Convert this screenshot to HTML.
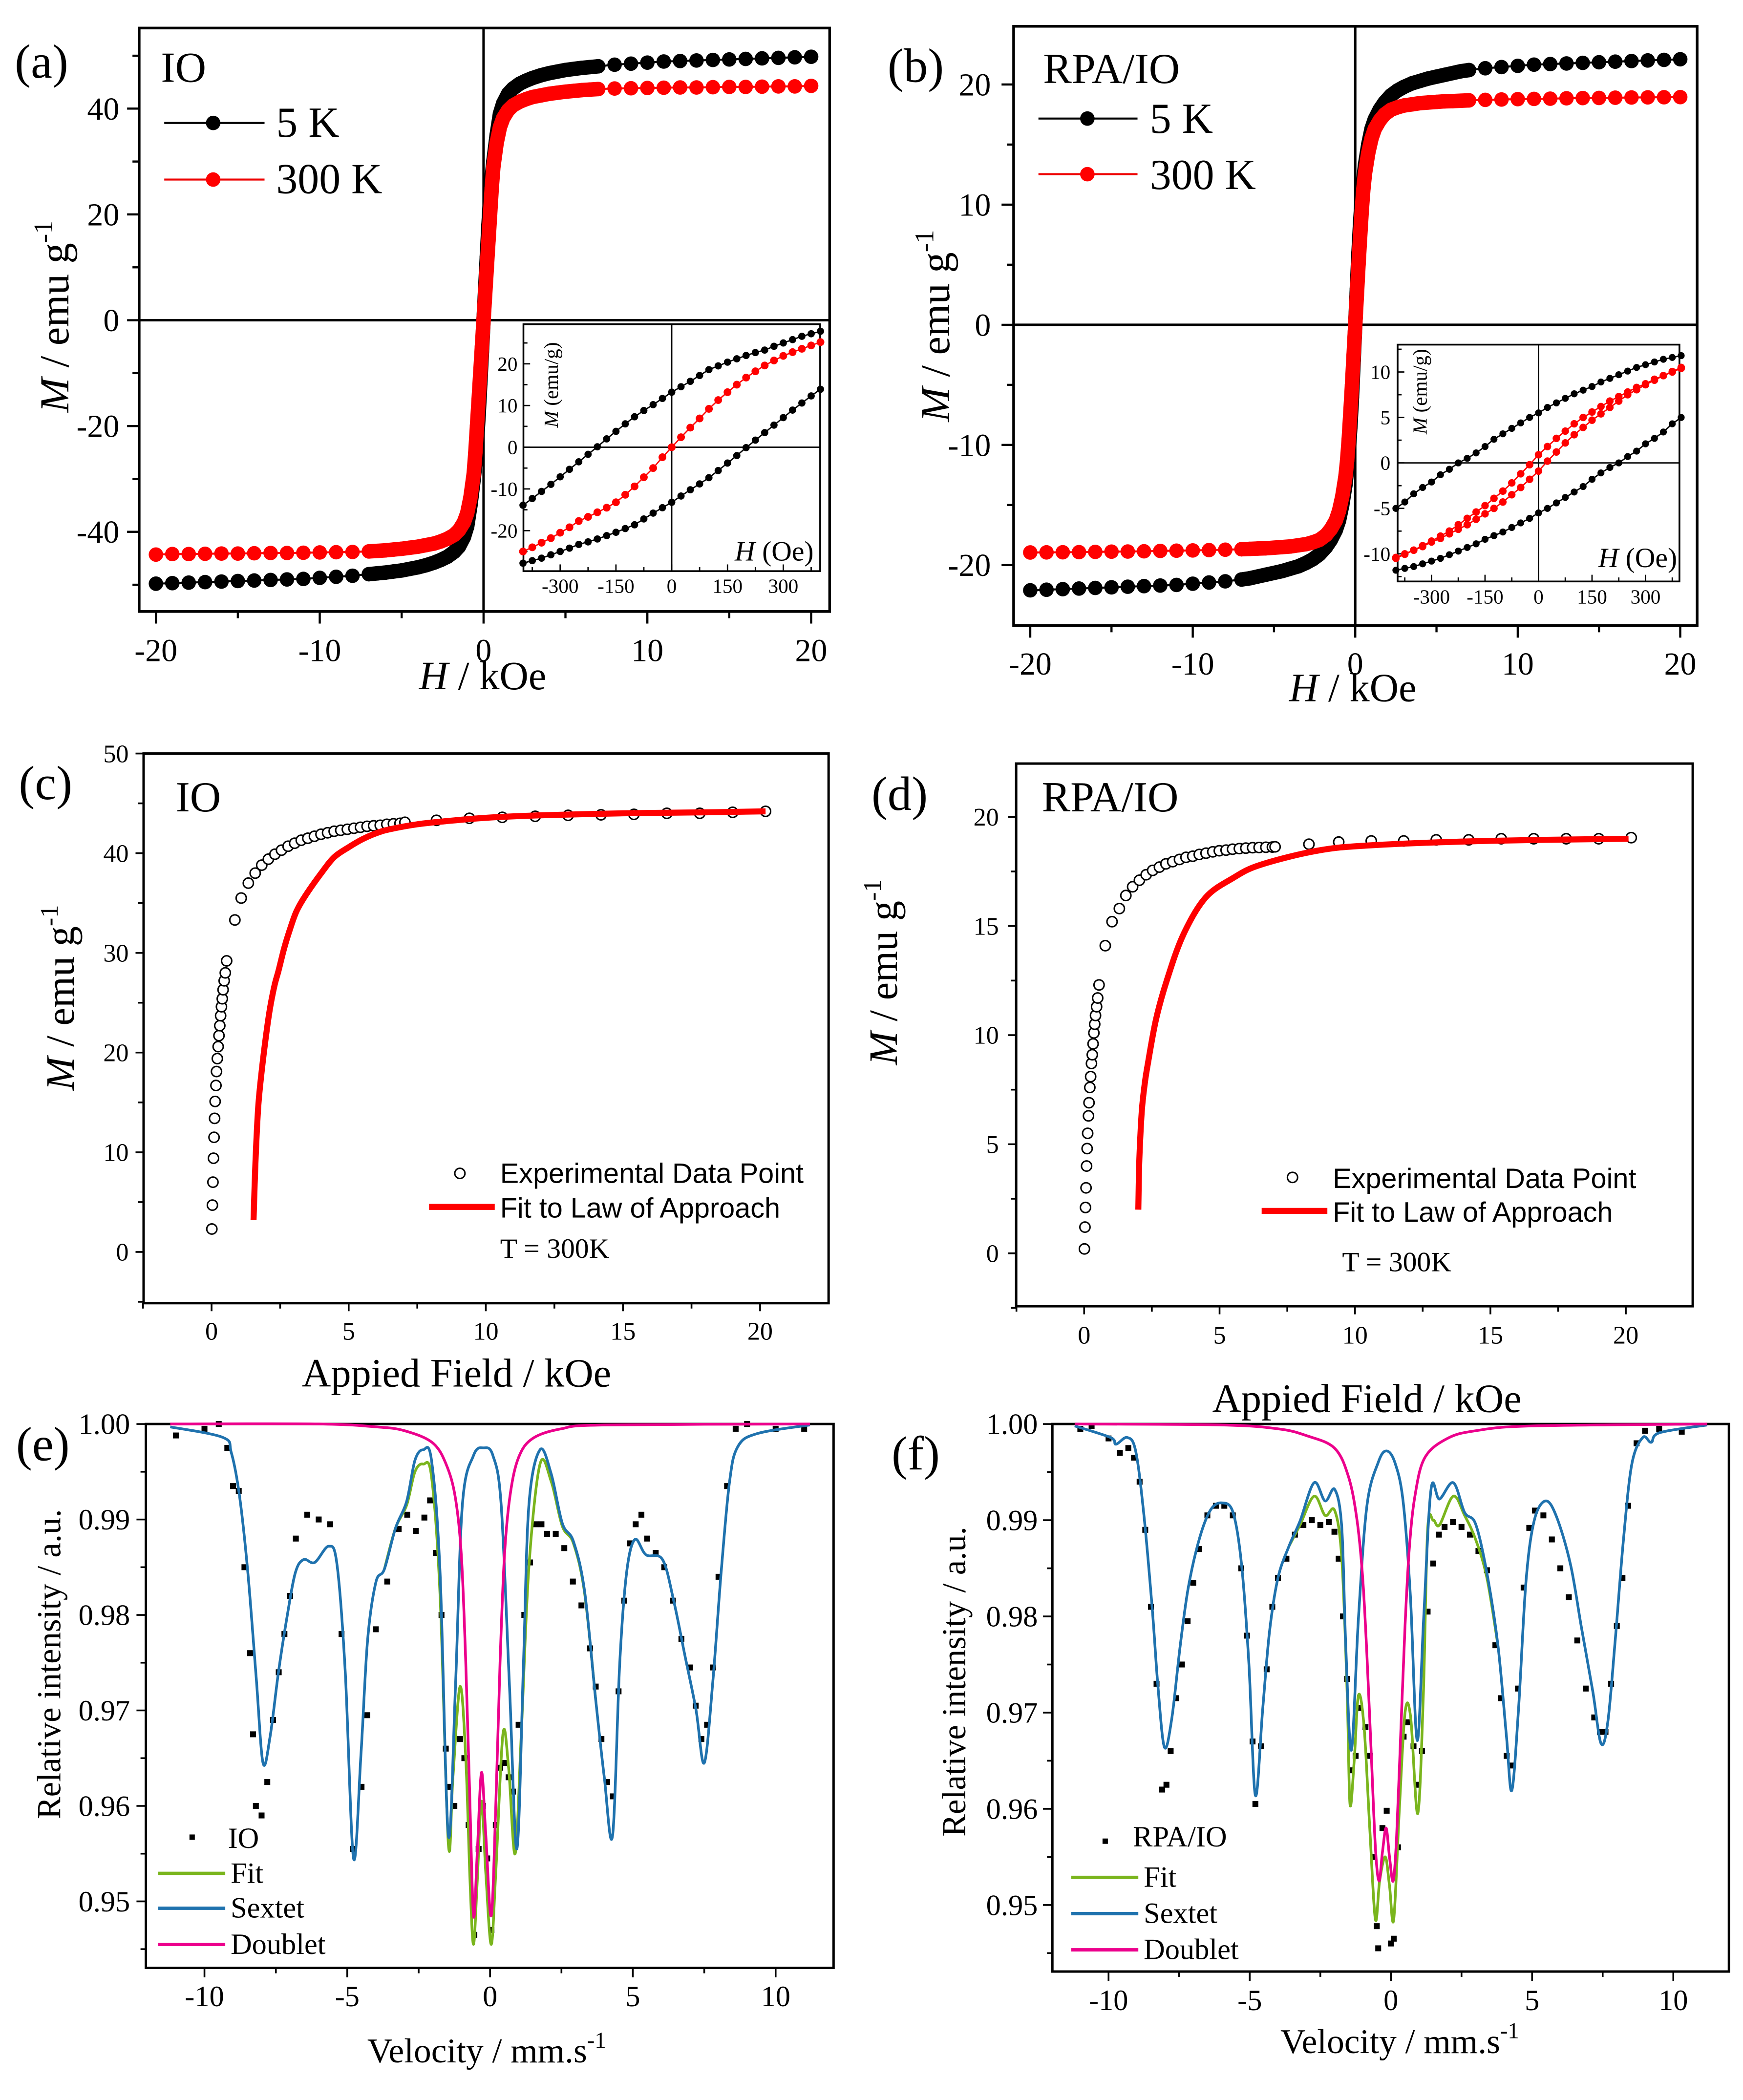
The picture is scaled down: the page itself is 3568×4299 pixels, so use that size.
<!DOCTYPE html>
<html><head><meta charset="utf-8">
<style>
html,body{margin:0;padding:0;background:#fff}
svg{display:block;font-family:"Liberation Serif",serif}
text{font-family:"Liberation Serif",serif;fill:#000}
text.sans{font-family:"Liberation Sans",sans-serif}
</style></head>
<body>
<svg id="fig" xmlns="http://www.w3.org/2000/svg" width="3568" height="4299" viewBox="0 0 1300 1566" preserveAspectRatio="none" font-family="Liberation Serif, serif">
<rect x="0" y="0" width="1300" height="1566" fill="#fff"/>

<!-- Panel a -->
<g id="pa">
  <text x="11" y="58" font-size="36">(a)</text>
</g>
<g id="pa-top">
  <text x="120" y="61" font-size="32">IO</text>
  <line x1="122.5" y1="91.7" x2="197.3" y2="91.7" stroke="#000" stroke-width="1.5"/>
  <circle cx="159" cy="91.7" r="5.4" fill="#000"/>
  <text x="206" y="102" font-size="32">5 K</text>
  <line x1="122.5" y1="133.9" x2="197.3" y2="133.9" stroke="#e00" stroke-width="1.5"/>
  <circle cx="159" cy="133.9" r="5.4" fill="#f00"/>
  <text x="206" y="144" font-size="32">300 K</text>
  <text x="360" y="514" font-size="30" text-anchor="middle"><tspan font-style="italic">H</tspan> / kOe</text>
  <text transform="translate(51,236) rotate(-90)" font-size="31" text-anchor="middle"><tspan font-style="italic">M</tspan> / emu g<tspan dy="-12" font-size="20">-1</tspan></text>
</g>
<g id="pai"></g>
<g id="pai-top">
  <text x="548" y="418" font-size="21"><tspan font-style="italic">H</tspan> (Oe)</text>
  <text transform="translate(416,287) rotate(-90)" font-size="15" text-anchor="middle"><tspan font-style="italic">M</tspan> (emu/g)</text>
</g>

<!-- Panel b -->
<g id="pb">
  <text x="662" y="61" font-size="36">(b)</text>
</g>
<g id="pb-top">
  <text x="778" y="62" font-size="32">RPA/IO</text>
  <line x1="774.5" y1="88.4" x2="848.4" y2="88.4" stroke="#000" stroke-width="1.5"/>
  <circle cx="811" cy="88.4" r="5.4" fill="#000"/>
  <text x="857.6" y="99" font-size="32">5 K</text>
  <line x1="774.5" y1="129.9" x2="848.4" y2="129.9" stroke="#e00" stroke-width="1.5"/>
  <circle cx="811" cy="129.9" r="5.4" fill="#f00"/>
  <text x="857.6" y="141" font-size="32">300 K</text>
  <text x="1009" y="523" font-size="30" text-anchor="middle"><tspan font-style="italic">H</tspan> / kOe</text>
  <text transform="translate(708,243) rotate(-90)" font-size="31" text-anchor="middle"><tspan font-style="italic">M</tspan> / emu g<tspan dy="-12" font-size="20">-1</tspan></text>
</g>
<g id="pbi"></g>
<g id="pbi-top">
  <text x="1192" y="423" font-size="21"><tspan font-style="italic">H</tspan> (Oe)</text>
  <text transform="translate(1064,292) rotate(-90)" font-size="15" text-anchor="middle"><tspan font-style="italic">M</tspan> (emu/g)</text>
</g>

<!-- Panel c -->
<g id="pc">
  <text x="14" y="596" font-size="36">(c)</text>
  <text x="131" y="605" font-size="32">IO</text>
  <circle cx="343" cy="875" r="3.8" fill="#fff" stroke="#000" stroke-width="1.1"/>
  <text x="373" y="882" font-size="21" class="sans" font-family="Liberation Sans, sans-serif">Experimental Data Point</text>
  <line x1="320" y1="900" x2="369" y2="900" stroke="#f00" stroke-width="4.5"/>
  <text x="373" y="908" font-size="21" class="sans" font-family="Liberation Sans, sans-serif">Fit to Law of Approach</text>
  <text x="373" y="938" font-size="21">T = 300K</text>
  <text x="340.5" y="1034" font-size="30" text-anchor="middle">Appied Field / kOe</text>
  <text transform="translate(55,744) rotate(-90)" font-size="30" text-anchor="middle"><tspan font-style="italic">M</tspan> / emu g<tspan dy="-12" font-size="19">-1</tspan></text>
</g>

<!-- Panel d -->
<g id="pd">
  <text x="650" y="604" font-size="36">(d)</text>
  <text x="777" y="605" font-size="32">RPA/IO</text>
  <circle cx="964" cy="878" r="3.8" fill="#fff" stroke="#000" stroke-width="1.1"/>
  <text x="994" y="886" font-size="21" class="sans" font-family="Liberation Sans, sans-serif">Experimental Data Point</text>
  <line x1="941" y1="903" x2="990" y2="903" stroke="#f00" stroke-width="4.5"/>
  <text x="994" y="911" font-size="21" class="sans" font-family="Liberation Sans, sans-serif">Fit to Law of Approach</text>
  <text x="1001" y="948" font-size="21">T = 300K</text>
  <text x="1019.5" y="1053" font-size="30" text-anchor="middle">Appied Field / kOe</text>
  <text transform="translate(669,725) rotate(-90)" font-size="30" text-anchor="middle"><tspan font-style="italic">M</tspan> / emu g<tspan dy="-12" font-size="19">-1</tspan></text>
</g>

<!-- Panel e -->
<g id="pe">
  <text x="12" y="1089" font-size="36">(e)</text>
</g>
<g id="pe-top">
  <rect x="141.3" y="1368" width="4" height="4" fill="#000"/>
  <text x="170" y="1378" font-size="22">IO</text>
  <line x1="118" y1="1397" x2="168" y2="1397" stroke="#7AB51D" stroke-width="2.5"/>
  <text x="172" y="1404" font-size="22">Fit</text>
  <line x1="118" y1="1423" x2="168" y2="1423" stroke="#1F72AE" stroke-width="2.5"/>
  <text x="172" y="1430" font-size="22">Sextet</text>
  <line x1="118" y1="1450" x2="168" y2="1450" stroke="#EC008C" stroke-width="2.5"/>
  <text x="172" y="1457" font-size="22">Doublet</text>
  <text x="363" y="1538" font-size="26" text-anchor="middle">Velocity / mm.s<tspan dy="-11" font-size="17">-1</tspan></text>
  <text transform="translate(45,1241) rotate(-90)" font-size="25" text-anchor="middle">Relative intensity / a.u.</text>
</g>

<!-- Panel f -->
<g id="pf">
  <text x="665" y="1096" font-size="36">(f)</text>
</g>
<g id="pf-top">
  <rect x="822.3" y="1371" width="4" height="4" fill="#000"/>
  <text x="845" y="1377" font-size="22">RPA/IO</text>
  <line x1="799" y1="1400" x2="849" y2="1400" stroke="#7AB51D" stroke-width="2.5"/>
  <text x="853" y="1407" font-size="22">Fit</text>
  <line x1="799" y1="1427" x2="849" y2="1427" stroke="#1F72AE" stroke-width="2.5"/>
  <text x="853" y="1434" font-size="22">Sextet</text>
  <line x1="799" y1="1454" x2="849" y2="1454" stroke="#EC008C" stroke-width="2.5"/>
  <text x="853" y="1461" font-size="22">Doublet</text>
  <text x="1044" y="1531" font-size="26" text-anchor="middle">Velocity / mm.s<tspan dy="-11" font-size="17">-1</tspan></text>
  <text transform="translate(720,1254) rotate(-90)" font-size="25" text-anchor="middle">Relative intensity / a.u.</text>
</g>
</svg>

<script>
// ---------------- DATA ----------------
const aH = [0,0.1,0.2,0.3,0.4,0.5,0.6,0.8,1,1.2,1.5,1.8,2.2,2.6,3,3.5,4,4.5,5,5.5,6,6.5,7,8,9,10,11,12,13,14,15,16,17,18,19,20];
const a5K = [0,6,12,18,23,27,30,35,39,41,42.8,43.8,44.7,45.3,45.8,46.3,46.7,47,47.3,47.5,47.7,47.85,48,48.3,48.5,48.7,48.9,49,49.1,49.2,49.3,49.4,49.5,49.6,49.7,49.8];
const a300K = [0,5,10,15,20,25,29,33.5,36.5,38.2,39.7,40.6,41.3,41.8,42.2,42.5,42.8,43,43.2,43.35,43.5,43.6,43.7,43.8,43.85,43.9,43.95,44,44,44.05,44.1,44.1,44.15,44.2,44.2,44.3];
const bH = [0,0.1,0.2,0.3,0.4,0.5,0.6,0.8,1,1.2,1.5,1.8,2.2,2.6,3,3.5,4,4.5,5,5.5,6,6.5,7,8,9,10,11,12,13,14,15,16,17,18,19,20];
const b5K = [0,3,6,8.5,10.5,12,13.3,15,16.3,17.1,17.9,18.5,19.1,19.5,19.8,20.1,20.3,20.5,20.65,20.8,20.95,21.1,21.2,21.35,21.45,21.55,21.65,21.7,21.75,21.8,21.85,21.9,21.95,22,22.05,22.1];
const b300K = [0,2.5,5,7.3,9.5,11.3,12.6,14.3,15.5,16.3,17,17.5,17.9,18.1,18.25,18.35,18.45,18.5,18.55,18.6,18.62,18.65,18.68,18.72,18.75,18.78,18.8,18.82,18.85,18.87,18.88,18.9,18.92,18.93,18.94,18.95];
const insetH = [-400,-375,-350,-325,-300,-275,-250,-225,-200,-175,-150,-125,-100,-75,-50,-25,0,25,50,75,100,125,150,175,200,225,250,275,300,325,350,375,400];
const ia5Up = [-13.9,-12.3,-10.6,-8.9,-7.1,-5.3,-3.5,-1.7,0.1,2,3.8,5.6,7.3,8.8,10.2,11.7,13.2,14.5,15.8,17.2,18.6,19.5,20.4,21.2,22,22.7,23.3,24.2,25,25.8,26.6,27.2,27.8];
const ia5Down = [-27.8,-27.2,-26.6,-25.8,-25,-24.2,-23.3,-22.7,-22,-21.2,-20.4,-19.5,-18.6,-17.2,-15.8,-14.5,-13.2,-11.7,-10.2,-8.8,-7.3,-5.6,-3.8,-2,-0.1,1.7,3.5,5.3,7.1,8.9,10.6,12.3,13.9];
const ia300 = [-25,-24,-22.9,-21.8,-20.5,-19.2,-17.7,-16.7,-15.6,-14.5,-13.2,-11.4,-9.4,-7.2,-5,-2.4,0,2.4,4.7,6.9,9.2,11.3,13.2,15,16.7,18.2,19.6,20.8,21.9,22.8,23.6,24.4,25.2];
const ib5Up = [-5,-4.3,-3.4,-2.7,-2.1,-1.3,-0.7,0,0.5,1.1,1.8,2.6,3.2,3.8,4.4,5,5.5,6.1,6.6,7.1,7.6,8,8.4,8.9,9.3,9.7,10.1,10.5,10.8,11.1,11.4,11.6,11.8];
const ib5Down = [-11.8,-11.6,-11.4,-11.1,-10.8,-10.5,-10.1,-9.7,-9.3,-8.9,-8.4,-8,-7.6,-7.1,-6.6,-6.1,-5.5,-5,-4.4,-3.8,-3.2,-2.6,-1.8,-1.1,-0.5,0,0.7,1.3,2.1,2.7,3.4,4.3,5];
const ib300Up = [-10.5,-10.05,-9.6,-9.1,-8.6,-8.05,-7.5,-6.8,-6.1,-5.4,-4.7,-3.9,-3.1,-2.2,-1.2,-0.2,0.9,1.8,2.7,3.5,4.3,5,5.6,6.2,6.8,7.3,7.8,8.3,8.7,9.2,9.6,10,10.4];
const ib300Down = [-10.4,-10,-9.6,-9.2,-8.7,-8.3,-7.8,-7.3,-6.8,-6.2,-5.6,-5,-4.3,-3.5,-2.7,-1.8,-0.9,0.2,1.2,2.2,3.1,3.9,4.7,5.4,6.1,6.8,7.5,8.05,8.6,9.1,9.6,10.05,10.5];
const cExpH = [0.01,0.03,0.05,0.07,0.09,0.11,0.13,0.16,0.18,0.21,0.24,0.27,0.3,0.33,0.36,0.39,0.42,0.46,0.5,0.55,0.85,1.08,1.34,1.59,1.83,2.07,2.31,2.55,2.79,3.03,3.27,3.51,3.75,3.99,4.23,4.47,4.71,4.95,5.19,5.43,5.67,5.91,6.15,6.39,6.63,6.87,7.05,8.2,9.4,10.6,11.8,13,14.2,15.4,16.6,17.8,19,20.2];
const cExpM = [2.3,4.7,7,9.4,11.5,13.4,15.1,16.7,18.1,19.4,20.6,21.7,22.7,23.7,24.6,25.4,26.3,27.2,28,29.2,33.3,35.5,37,38,38.8,39.4,39.9,40.3,40.7,41,41.3,41.5,41.7,41.9,42.05,42.2,42.3,42.4,42.5,42.6,42.7,42.75,42.8,42.9,42.95,43,43.1,43.3,43.5,43.6,43.7,43.8,43.85,43.9,44,44,44.1,44.2];
const cFitH = [1.53,1.6,1.7,1.83,2,2.14,2.3,2.44,2.65,2.85,3.1,3.46,4,4.47,5,5.5,6,6.5,7.5,8.5,10,12,15,18,20.2];
const cFitM = [3.2,9,14.5,18.2,22,24.6,26.8,28.2,30.5,32.3,34.2,35.9,38,39.6,40.6,41.4,42,42.4,42.9,43.2,43.55,43.8,44,44.1,44.2];
const dExpH = [0.01,0.03,0.05,0.07,0.09,0.11,0.13,0.16,0.18,0.21,0.24,0.27,0.3,0.33,0.36,0.39,0.42,0.46,0.5,0.55,0.78,1.03,1.3,1.54,1.79,2.04,2.29,2.53,2.78,3.02,3.27,3.52,3.76,4.01,4.25,4.5,4.75,4.99,5.24,5.48,5.73,5.97,6.22,6.46,6.71,6.95,7.05,8.3,9.4,10.6,11.8,13,14.2,15.4,16.6,17.8,19,20.2];
const dExpM = [0.2,1.2,2.1,3,4,4.8,5.5,6.3,6.9,7.6,8.1,8.7,9.1,9.6,10.1,10.5,10.9,11.3,11.7,12.3,14.1,15.2,15.8,16.4,16.8,17.1,17.35,17.55,17.7,17.85,17.95,18.05,18.15,18.2,18.28,18.34,18.4,18.45,18.48,18.52,18.55,18.57,18.59,18.6,18.61,18.62,18.63,18.75,18.85,18.9,18.9,18.95,18.95,19,19,19,19,19.05];
const dFitH = [2,2.03,2.08,2.14,2.24,2.34,2.65,3.05,3.66,4.48,5.5,6.5,8.6,10.6,14.8,20.1];
const dFitM = [2,4,5.5,6.7,7.8,8.6,10.7,12.5,14.6,16.3,17.2,17.8,18.45,18.7,18.9,19.0];
const eSexV = [-11.2,-9.36,-9.06,-8.77,-8.48,-8.19,-7.95,-7.7,-7.41,-7.12,-6.82,-6.53,-6.14,-5.65,-5.36,-5.07,-4.78,-4.52,-4.29,-4.0,-3.7,-3.31,-2.92,-2.63,-2.34,-2.05,-1.75,-1.46,-1.21,-0.97,-0.58,-0.23,0.1,0.39,0.68,0.94,1.17,1.36,1.75,2.14,2.53,2.92,3.31,3.7,4.0,4.29,4.54,4.78,5.07,5.46,6.04,6.43,6.82,7.21,7.5,7.8,8.09,8.38,8.67,9.36,11.2];
const eSexI = [0.9997,0.9986,0.997,0.9924,0.9844,0.9735,0.9645,0.9673,0.974,0.9796,0.9844,0.9858,0.9855,0.9872,0.9853,0.974,0.9545,0.9654,0.9773,0.9834,0.9848,0.9891,0.9919,0.9962,0.9973,0.9962,0.9844,0.9569,0.9726,0.9915,0.9967,0.9975,0.9967,0.9915,0.9726,0.9555,0.9749,0.9915,0.9973,0.9948,0.9896,0.9877,0.9825,0.9711,0.963,0.9569,0.9749,0.9844,0.9879,0.9863,0.9858,0.9815,0.9758,0.9701,0.9645,0.9730,0.9844,0.9938,0.9976,0.999,0.9999];
const eFitV = [-3.7,-3.31,-2.92,-2.63,-2.34,-2.05,-1.75,-1.46,-1.3,-1.05,-0.85,-0.7,-0.58,-0.45,-0.3,-0.15,0.04,0.2,0.45,0.65,0.88,1.1,1.36,1.75,2.14,2.53,2.92,3.31,3.7];
const eFitI = [0.9848,0.9891,0.9915,0.995,0.9958,0.9945,0.982,0.956,0.963,0.9725,0.965,0.952,0.9455,0.952,0.9605,0.953,0.9455,0.953,0.9675,0.964,0.955,0.968,0.985,0.9958,0.994,0.9893,0.9875,0.9823,0.9711];
const eDblV = [-11.2,-6,-4,-3,-2,-1.5,-1.2,-1,-0.85,-0.72,-0.58,-0.45,-0.3,-0.15,0.04,0.2,0.35,0.5,0.7,1,1.5,2.5,4,11.2];
const eDblI = [1,1,0.9997,0.9993,0.998,0.9955,0.992,0.986,0.975,0.962,0.9485,0.955,0.9635,0.957,0.9485,0.96,0.975,0.986,0.9925,0.9965,0.9985,0.9995,0.9999,1];
const eDatV = [-11,-10,-9.5,-9.2,-9,-8.8,-8.6,-8.4,-8.3,-8.2,-8.0,-7.8,-7.6,-7.4,-7.2,-7,-6.8,-6.4,-6,-5.6,-5.2,-4.8,-4.5,-4.3,-4,-3.6,-3.2,-2.9,-2.6,-2.3,-2.1,-1.9,-1.7,-1.55,-1.4,-1.25,-1.05,-0.9,-0.75,-0.55,-0.4,-0.25,-0.1,0.05,0.2,0.35,0.5,0.65,0.8,1.0,1.2,1.4,1.6,1.8,2.0,2.3,2.6,2.9,3.2,3.5,3.7,3.9,4.1,4.3,4.5,4.7,4.9,5.1,5.3,5.5,5.8,6.1,6.4,6.7,7.0,7.2,7.4,7.6,7.8,8.0,8.3,8.6,9,10,11];
const eDatI = [0.9988,0.9995,1.0,0.9975,0.9935,0.993,0.985,0.976,0.9675,0.96,0.959,0.9625,0.969,0.974,0.978,0.982,0.988,0.9905,0.990,0.9895,0.978,0.9555,0.962,0.9695,0.9785,0.9835,0.989,0.9905,0.9888,0.9902,0.992,0.9865,0.98,0.966,0.962,0.96,0.967,0.965,0.958,0.9465,0.9555,0.96,0.9545,0.947,0.958,0.964,0.9645,0.963,0.9615,0.9685,0.98,0.9855,0.9895,0.9895,0.9885,0.9885,0.987,0.9835,0.981,0.9765,0.9725,0.967,0.9625,0.961,0.972,0.9815,0.9875,0.9895,0.9905,0.988,0.9865,0.985,0.9815,0.9775,0.9745,0.9705,0.967,0.9685,0.9745,0.984,0.9935,0.9995,1.0,0.9995,0.9995];
const fSexV = [-11.2,-9.93,-9.74,-9.34,-9.04,-8.75,-8.45,-8.25,-8.02,-7.76,-7.46,-7.17,-6.77,-6.38,-5.98,-5.59,-5.29,-5.03,-4.8,-4.54,-4.3,-4.0,-3.61,-3.22,-2.72,-2.33,-1.99,-1.74,-1.6,-1.4,-1.15,-0.85,-0.45,-0.16,0.14,0.43,0.69,0.93,1.16,1.42,1.72,2.21,2.61,3.0,3.4,3.79,4.09,4.28,4.52,4.78,5.07,5.47,5.86,6.36,6.75,7.15,7.44,7.68,7.94,8.23,8.53,8.92,9.22,9.52,11.2];
const fSexI = [0.9998,0.9986,0.9979,0.9986,0.9972,0.9906,0.9807,0.9727,0.9664,0.9694,0.977,0.9831,0.9882,0.9911,0.9918,0.9908,0.9854,0.9751,0.9614,0.9704,0.9784,0.984,0.9873,0.9899,0.9939,0.992,0.9932,0.9892,0.977,0.9661,0.9798,0.9915,0.996,0.9972,0.996,0.992,0.9821,0.9671,0.9798,0.9932,0.9922,0.9939,0.9908,0.9896,0.9845,0.977,0.9676,0.9619,0.9704,0.9835,0.9899,0.992,0.9904,0.9854,0.9788,0.9722,0.9668,0.969,0.9774,0.9878,0.9958,0.9986,0.9981,0.9991,0.9999];
const fFitV = [-3.61,-3.22,-2.72,-2.33,-1.99,-1.74,-1.55,-1.45,-1.3,-1.15,-0.95,-0.75,-0.55,-0.4,-0.2,-0.05,0.1,0.3,0.5,0.7,0.95,1.15,1.3,1.5,1.72,2.21,2.61,3.0,3.4,3.79];
const fFitI = [0.9873,0.9895,0.9925,0.9905,0.991,0.986,0.972,0.9605,0.965,0.9718,0.9685,0.958,0.9485,0.9525,0.955,0.952,0.9485,0.96,0.970,0.9695,0.9595,0.972,0.989,0.990,0.9895,0.9925,0.9905,0.988,0.9840,0.977];
const fDblV = [-11.2,-6,-4,-3,-2,-1.5,-1.2,-1,-0.85,-0.7,-0.55,-0.42,-0.3,-0.17,-0.05,0.08,0.2,0.35,0.5,0.65,0.85,1.2,2,3,5,11.2];
const fDblI = [1,0.9999,0.9995,0.9988,0.9975,0.9945,0.990,0.984,0.976,0.966,0.956,0.9525,0.9555,0.958,0.955,0.9525,0.957,0.968,0.979,0.987,0.9925,0.9965,0.9985,0.9993,0.9998,1];
const fDatV = [-11,-10.6,-10,-9.6,-9.3,-9.1,-8.9,-8.7,-8.5,-8.3,-8.1,-7.95,-7.8,-7.6,-7.4,-7.2,-7.0,-6.8,-6.5,-6.2,-5.9,-5.6,-5.3,-5.1,-4.9,-4.8,-4.6,-4.4,-4.2,-4.0,-3.7,-3.4,-3.1,-2.8,-2.5,-2.2,-2.0,-1.85,-1.7,-1.55,-1.4,-1.25,-1.1,-0.9,-0.75,-0.6,-0.5,-0.45,-0.3,-0.15,0.0,0.1,0.25,0.45,0.6,0.8,0.95,1.1,1.3,1.5,1.7,1.9,2.2,2.5,2.8,3.1,3.4,3.7,3.9,4.1,4.3,4.5,4.7,4.9,5.1,5.4,5.7,6.0,6.3,6.6,6.9,7.2,7.4,7.6,7.8,8.0,8.2,8.4,8.7,9.0,9.5,10.3];
const fDatI = [0.9995,0.9998,0.9985,0.997,0.9975,0.9965,0.994,0.989,0.981,0.973,0.962,0.9625,0.966,0.9715,0.975,0.9795,0.9835,0.987,0.9905,0.9915,0.9915,0.9905,0.985,0.978,0.967,0.9605,0.9665,0.9745,0.981,0.984,0.986,0.9885,0.9895,0.990,0.9895,0.9898,0.9888,0.986,0.98,0.9735,0.964,0.9655,0.9705,0.9685,0.9655,0.955,0.9478,0.9455,0.958,0.9598,0.946,0.9465,0.956,0.9675,0.969,0.9665,0.9625,0.966,0.9805,0.9855,0.9885,0.9893,0.9898,0.9893,0.9885,0.9868,0.9848,0.977,0.9715,0.9655,0.9645,0.9725,0.983,0.9892,0.991,0.9905,0.988,0.985,0.982,0.9775,0.9725,0.9695,0.968,0.968,0.973,0.979,0.984,0.9915,0.998,0.9993,0.9995,0.9992];
const hxTicks = [-20,-10,0,10,20];
const hxLabels = ['-20','-10','0','10','20'];
const aYTicks = [-40,-20,0,20,40];
const aYLabels = ['-40','-20','0','20','40'];
const bYTicks = [-20,-10,0,10,20];
const bYLabels = ['-20','-10','0','10','20'];
const inXTicks = [-300,-150,0,150,300];
const inXLabels = ['-300','-150','0','150','300'];
const iaYTicks = [-20,-10,0,10,20];
const iaYLabels = ['-20','-10','0','10','20'];
const ibYTicks = [-10,-5,0,5,10];
const ibYLabels = ['-10','-5','0','5','10'];
const cdXTicks = [0,5,10,15,20];
const cdXLabels = ['0','5','10','15','20'];
const cYTicks = [0,10,20,30,40,50];
const cYLabels = ['0','10','20','30','40','50'];
const dYTicks = [0,5,10,15,20];
const dYLabels = ['0','5','10','15','20'];
const vXTicks = [-10,-5,0,5,10];
const vXLabels = ['-10','-5','0','5','10'];
const rYTicks = [0.95,0.96,0.97,0.98,0.99,1.00];
const rYLabels = ['0.95','0.96','0.97','0.98','0.99','1.00'];

// ---------------- HELPERS ----------------
const NS = 'http://www.w3.org/2000/svg';
const SERIF = 'Liberation Serif, serif';
function mk(tag, attrs, parent){const e=document.createElementNS(NS,tag);for(const k in attrs)e.setAttribute(k,attrs[k]);parent.appendChild(e);return e;}
function lin(d0,d1,r0,r1){return v=>r0+(v-d0)*(r1-r0)/(d1-d0);}
function smooth(P){
  let d='M'+P[0][0].toFixed(2)+','+P[0][1].toFixed(2);
  for(let i=0;i<P.length-1;i++){
    const p0=P[i-1]||P[i],p1=P[i],p2=P[i+1],p3=P[i+2]||P[i+1];
    const c1x=p1[0]+(p2[0]-p0[0])/6,c1y=p1[1]+(p2[1]-p0[1])/6;
    const c2x=p2[0]-(p3[0]-p1[0])/6,c2y=p2[1]-(p3[1]-p1[1])/6;
    d+='C'+c1x.toFixed(2)+','+c1y.toFixed(2)+' '+c2x.toFixed(2)+','+c2y.toFixed(2)+' '+p2[0].toFixed(2)+','+p2[1].toFixed(2);
  }
  return d;
}
function axes(g, box, xs, ys, o){
  const L=box[0],T=box[1],R=box[2],B=box[3];
  const fr=mk('rect',{x:L,y:T,width:R-L,height:B-T,fill:o.fill||'none',stroke:'#000','stroke-width':o.sw},g);
  
  
  const s=o.out?1:-1;
  o.xMaj.forEach((v,i)=>{
    const x=xs(v);
    const t=mk('line',{x1:x,x2:x,y1:B,y2:B+s*o.lm,stroke:'#000','stroke-width':o.tw},g);
    
    
    const lb=mk('text',{x:x,y:o.xLabY,'text-anchor':'middle','font-size':o.fs,'font-family':SERIF},g);
    lb.textContent=o.xLab[i];
    
    
  });
  o.xMin.forEach(v=>{
    const x=xs(v);
    const t=mk('line',{x1:x,x2:x,y1:B,y2:B+s*o.ln,stroke:'#000','stroke-width':o.tw},g);
    
    
  });
  o.yMaj.forEach((v,i)=>{
    const y=ys(v);
    const t=mk('line',{x1:L,x2:L-s*o.lm,y1:y,y2:y,stroke:'#000','stroke-width':o.tw},g);
    
    
    const lb=mk('text',{x:o.yLabX,y:y+o.fs*0.34,'text-anchor':'end','font-size':o.fs,'font-family':SERIF},g);
    lb.textContent=o.yLab[i];
    
    
  });
  o.yMin.forEach(v=>{
    const y=ys(v);
    const t=mk('line',{x1:L,x2:L-s*o.ln,y1:y,y2:y,stroke:'#000','stroke-width':o.tw},g);
    
    
  });
}
function cross(g, box, xs, ys, sw, name){
  const h=mk('line',{x1:box[0],x2:box[2],y1:ys(0),y2:ys(0),stroke:'#000','stroke-width':sw},g);
  
  
  const v=mk('line',{x1:xs(0),x2:xs(0),y1:box[1],y2:box[3],stroke:'#000','stroke-width':sw},g);
  
  
}
function hystMain(g, xs, ys, H, M, color, name){
  const pts=[];
  for(let i=H.length-1;i>0;i--) pts.push([-H[i],-M[i]]);
  for(let i=0;i<H.length;i++) pts.push([H[i],M[i]]);
  const P=pts.map(p=>[xs(p[0]),ys(p[1])]);
  const ln=mk('polyline',{points:P.map(p=>p.join(',')).join(' '),fill:'none',stroke:color,'stroke-width':1.5},g);
  
  
  const D=pts.filter(p=>Math.abs(p[0])<=7).map(p=>[xs(p[0]),ys(p[1])]);
  const band=mk('polyline',{points:D.map(p=>p.join(',')).join(' '),fill:'none',stroke:color,'stroke-width':10.8,'stroke-linejoin':'round','stroke-linecap':'round'},g);
  
  
  P.forEach(p=>{
    const c=mk('circle',{cx:p[0],cy:p[1],r:5.4,fill:color},g);
    
    
  });
}
function branch(g, xs, ys, H, M, color, name, r){
  const P=H.map((h,i)=>[xs(h),ys(M[i])]);
  const ln=mk('polyline',{points:P.map(p=>p.join(',')).join(' '),fill:'none',stroke:color,'stroke-width':1},g);
  
  
  P.forEach(p=>{
    const c=mk('circle',{cx:p[0],cy:p[1],r:r,fill:color},g);
    
    
  });
}
function curve(g, xs, ys, V, I, color, w, name){
  const P=V.map((v,i)=>[xs(v),ys(I[i])]);
  const p=mk('path',{d:smooth(P),fill:'none',stroke:color,'stroke-width':w,'stroke-linejoin':'round'},g);
  
  
}
function openPts(g, xs, ys, H, M, name){
  H.forEach((h,i)=>{
    const c=mk('circle',{cx:xs(h),cy:ys(M[i]),r:3.8,fill:'#fff',stroke:'#000','stroke-width':1.1},g);
    
    
  });
}
function sqPts(g, xs, ys, V, I, name){
  V.forEach((v,i)=>{
    const r=mk('rect',{x:xs(v)-2.2,y:ys(I[i])-2.2,width:4.4,height:4.4,fill:'#000'},g);
    
    
  });
}

// ---------------- PANEL A ----------------
(function(){
  const g=document.getElementById('pa');
  const box=[103.8,20.9,618.8,456];
  const xs=lin(-20,20,116.3,605), ys=lin(0,40,238.8,81);
  axes(g,box,xs,ys,{name:'panel-a',sw:2,tw:1.6,out:true,lm:9,ln:5,fs:24,xMaj:hxTicks,xLab:hxLabels,xMin:[-15,-5,5,15],xLabY:493,yMaj:aYTicks,yLab:aYLabels,yMin:[-50,-30,-10,10,30,50],yLabX:89});
  cross(g,box,xs,ys,1.8,'panel-a');
  hystMain(g,xs,ys,aH,a5K,'#000','series-5k-a');
  hystMain(g,xs,ys,aH,a300K,'#f00','series-300k-a');
  const gi=document.getElementById('pai');
  const ib=[390.4,241.8,611.7,425.9];
  const ixs=lin(0,150,501,542.6), iys=lin(0,10,333.5,302.4);
  axes(gi,ib,ixs,iys,{name:'inset-a',fill:'#fff',sw:1.3,tw:1,out:false,lm:5,ln:3,fs:15,xMaj:inXTicks,xLab:inXLabels,xMin:[-375,-225,-75,75,225,375],xLabY:442,yMaj:iaYTicks,yLab:iaYLabels,yMin:[-25,-15,-5,5,15,25],yLabX:386});
  cross(gi,ib,ixs,iys,1,'inset-a');
  branch(gi,ixs,iys,insetH,ia5Up,'#000','inset-a-5k-upper',2.7);
  branch(gi,ixs,iys,insetH,ia5Down,'#000','inset-a-5k-lower',2.7);
  branch(gi,ixs,iys,insetH,ia300,'#f00','inset-a-300k',2.9);
})();

// ---------------- PANEL B ----------------
(function(){
  const g=document.getElementById('pb');
  const box=[756,19.6,1265.8,466.5];
  const xs=lin(-20,20,768.4,1253.2), ys=lin(0,20,242.2,63);
  axes(g,box,xs,ys,{name:'panel-b',sw:2,tw:1.6,out:true,lm:9,ln:5,fs:24,xMaj:hxTicks,xLab:hxLabels,xMin:[-15,-5,5,15],xLabY:503,yMaj:bYTicks,yLab:bYLabels,yMin:[-15,-5,5,15],yLabX:739});
  cross(g,box,xs,ys,1.8,'panel-b');
  hystMain(g,xs,ys,bH,b5K,'#000','series-5k-b');
  hystMain(g,xs,ys,bH,b300K,'#f00','series-300k-b');
  const gi=document.getElementById('pbi');
  const ib=[1042.4,257,1252.6,433.6];
  const ixs=lin(0,150,1147.5,1187.4), iys=lin(0,10,345.2,277.4);
  axes(gi,ib,ixs,iys,{name:'inset-b',fill:'#fff',sw:1.3,tw:1,out:false,lm:5,ln:3,fs:15,xMaj:inXTicks,xLab:inXLabels,xMin:[-375,-225,-75,75,225,375],xLabY:450,yMaj:ibYTicks,yLab:ibYLabels,yMin:[-12.5,-7.5,-2.5,2.5,7.5,12.5],yLabX:1037});
  cross(gi,ib,ixs,iys,1,'inset-b');
  branch(gi,ixs,iys,insetH,ib5Up,'#000','inset-b-5k-upper',2.6);
  branch(gi,ixs,iys,insetH,ib5Down,'#000','inset-b-5k-lower',2.6);
  branch(gi,ixs,iys,insetH,ib300Up,'#f00','inset-b-300k-upper',2.8);
  branch(gi,ixs,iys,insetH,ib300Down,'#f00','inset-b-300k-lower',2.8);
})();

// ---------------- PANEL C ----------------
(function(){
  const g=document.getElementById('pc');
  const box=[107.1,561.9,618,971.8];
  const xs=lin(0,20,157.8,566.9), ys=lin(0,50,933.6,561.9);
  axes(g,box,xs,ys,{name:'panel-c',sw:1.8,tw:1.3,out:true,lm:6,ln:4,fs:19,xMaj:cdXTicks,xLab:cdXLabels,xMin:[-2.5,2.5,7.5,12.5,17.5],xLabY:999,yMaj:cYTicks,yLab:cYLabels,yMin:[-5,5,15,25,35,45],yLabX:96});
  openPts(g,xs,ys,cExpH,cExpM,'experimental-point-c');
  curve(g,xs,ys,cFitH,cFitM,'#f00',4.5,'fit-curve-c');
})();

// ---------------- PANEL D ----------------
(function(){
  const g=document.getElementById('pd');
  const box=[757.9,569.4,1262.5,974.1];
  const xs=lin(0,20,808.6,1212.6), ys=lin(0,20,934.6,609.2);
  axes(g,box,xs,ys,{name:'panel-d',sw:1.8,tw:1.3,out:true,lm:6,ln:4,fs:19,xMaj:cdXTicks,xLab:cdXLabels,xMin:[-2.5,2.5,7.5,12.5,17.5],xLabY:1002,yMaj:dYTicks,yLab:dYLabels,yMin:[-2.5,2.5,7.5,12.5,17.5],yLabX:745});
  openPts(g,xs,ys,dExpH,dExpM,'experimental-point-d');
  curve(g,xs,ys,dFitH,dFitM,'#f00',4.5,'fit-curve-d');
})();

// ---------------- PANEL E ----------------
(function(){
  const g=document.getElementById('pe');
  const box=[108.8,1061.9,621.7,1467.5];
  const xs=lin(0,10,365.5,578.5), ys=lin(1.00,0.95,1061.9,1417.9);
  axes(g,box,xs,ys,{name:'panel-e',sw:1.8,tw:1.3,out:true,lm:7,ln:4,fs:22,xMaj:vXTicks,xLab:vXLabels,xMin:[-7.5,-2.5,2.5,7.5],xLabY:1496,yMaj:rYTicks,yLab:rYLabels,yMin:[0.945,0.955,0.965,0.975,0.985,0.995],yLabX:97});
  sqPts(g,xs,ys,eDatV,eDatI,'data-point-e');
  curve(g,xs,ys,eFitV,eFitI,'#7AB51D',2,'fit-curve-e');
  curve(g,xs,ys,eSexV,eSexI,'#1F72AE',2,'sextet-curve-e');
  curve(g,xs,ys,eDblV,eDblI,'#EC008C',2,'doublet-curve-e');
})();

// ---------------- PANEL F ----------------
(function(){
  const g=document.getElementById('pf');
  const box=[784.9,1061.9,1289.5,1470.2];
  const xs=lin(0,10,1037.4,1248), ys=lin(1.00,0.95,1061.9,1420.6);
  axes(g,box,xs,ys,{name:'panel-f',sw:1.8,tw:1.3,out:true,lm:7,ln:4,fs:22,xMaj:vXTicks,xLab:vXLabels,xMin:[-7.5,-2.5,2.5,7.5],xLabY:1499,yMaj:rYTicks,yLab:rYLabels,yMin:[0.945,0.955,0.965,0.975,0.985,0.995],yLabX:774});
  sqPts(g,xs,ys,fDatV,fDatI,'data-point-f');
  curve(g,xs,ys,fFitV,fFitI,'#7AB51D',2,'fit-curve-f');
  curve(g,xs,ys,fSexV,fSexI,'#1F72AE',2,'sextet-curve-f');
  curve(g,xs,ys,fDblV,fDblI,'#EC008C',2,'doublet-curve-f');
})();

['pai','pai-top','pa-top','pbi','pbi-top','pb-top','pe-top','pf-top'].forEach(id=>{
  const e=document.getElementById(id); e.parentNode.appendChild(e);
});
</script>
</body></html>
